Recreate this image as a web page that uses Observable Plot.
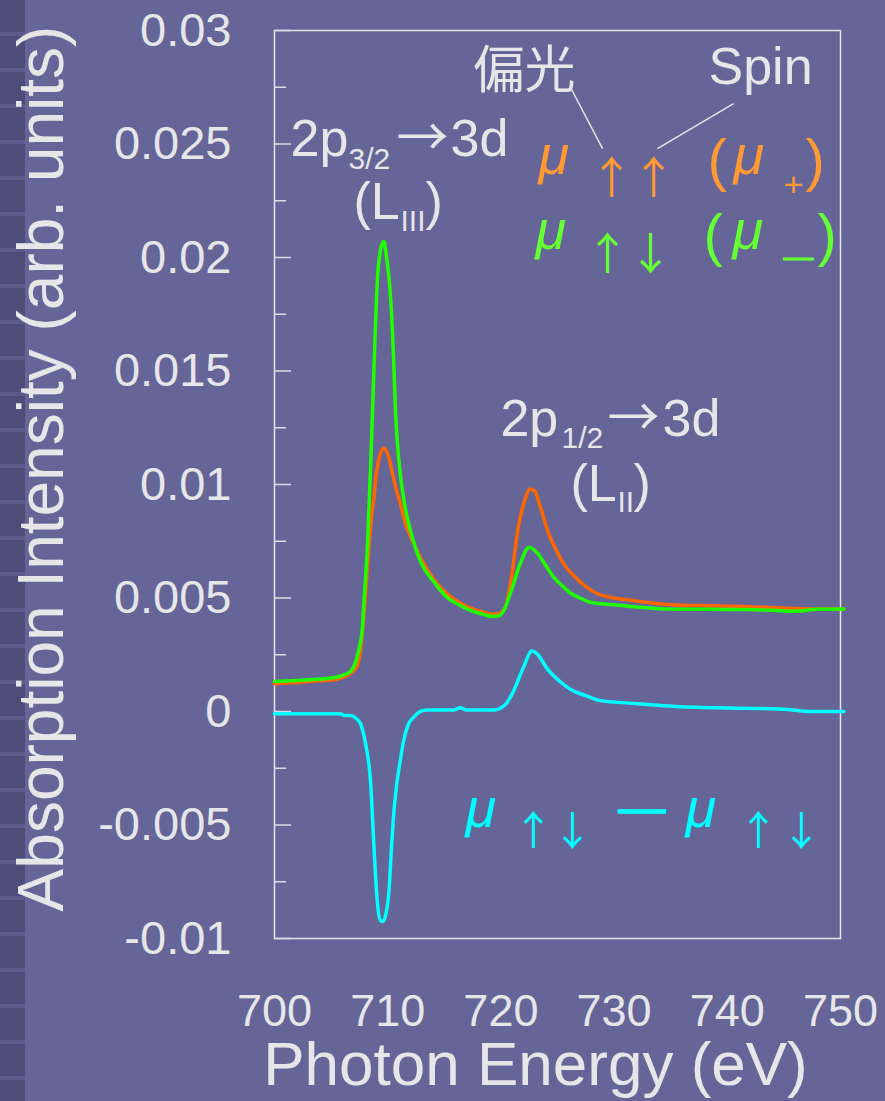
<!DOCTYPE html>
<html>
<head>
<meta charset="utf-8">
<script src="https://cdn.jsdelivr.net/npm/d3@7"></script>
<script src="https://cdn.jsdelivr.net/npm/@observablehq/plot@0.6"></script>
<style>
  html, body { margin: 0; padding: 0; background: #656598; }
  #chart { position: relative; width: 885px; height: 1101px; overflow: hidden; }
  #strip {
    position: absolute; left: 0; top: 0; width: 25px; height: 1101px;
    background: repeating-linear-gradient(to bottom, #4d4d7a 0px, #4d4d7a 32px, #5b5b8b 32px, #5b5b8b 36px);
  }
  #chart svg { position: absolute; left: 0; top: 0; }
</style>
</head>
<body>
<div id="chart"><div id="strip"></div></div>
<script>
// Fe L-edge absorption for the two photon-spin / electron-spin configurations
const energyPlus = [700, 702, 704, 705.5, 706.3, 706.8, 707.3, 707.6, 707.8, 708.0, 708.3, 708.6, 708.8, 709.0, 709.35, 709.66, 710.1, 710.5, 710.8, 711.1, 711.4, 711.7, 712.3, 713.2, 714.1, 715.0, 716.0, 717.3, 718.3, 719.1, 719.7, 720.3, 720.9, 721.5, 722.1, 722.6, 723.0, 723.5, 724.1, 725.0, 725.7, 726.4, 727.5, 728.5, 730.0, 731.5, 733.0, 734.4, 736.5, 738.8, 741.8, 744.7, 747.5, 750.3];
const muPlus = [0.00122, 0.00128, 0.00135, 0.00142, 0.00155, 0.00172, 0.0020, 0.0027, 0.0037, 0.0049, 0.0070, 0.0087, 0.0095, 0.0105, 0.01135, 0.0116, 0.0112, 0.0103, 0.0097, 0.0092, 0.0086, 0.0081, 0.0074, 0.0065, 0.0058, 0.0053, 0.0049, 0.00455, 0.0044, 0.0043, 0.0043, 0.0045, 0.0058, 0.0080, 0.0093, 0.0098, 0.0097, 0.0090, 0.0080, 0.0070, 0.0064, 0.0060, 0.0055, 0.0052, 0.0050, 0.0049, 0.0048, 0.00472, 0.00467, 0.00466, 0.00462, 0.00456, 0.00452, 0.00452];

const energyMinus = [700, 702, 704, 705.5, 706.3, 706.8, 707.3, 707.6, 707.75, 707.9, 708.2, 708.5, 708.8, 709.1, 709.4, 709.66, 709.9, 710.25, 710.5, 710.7, 711.0, 711.4, 712.0, 712.9, 714.1, 715.3, 716.3, 717.3, 718.3, 719.1, 719.7, 720.2, 720.9, 721.7, 722.5, 723.2, 724.0, 724.7, 725.5, 726.2, 727.0, 728.0, 730.0, 732.0, 734.4, 738.0, 741.8, 744.0, 745.9, 748.0, 750.3];
const muMinus = [0.00132, 0.00137, 0.00143, 0.00152, 0.00165, 0.00182, 0.0024, 0.0031, 0.0036, 0.0048, 0.0072, 0.0109, 0.0153, 0.0191, 0.0204, 0.0207, 0.0200, 0.0183, 0.0158, 0.0131, 0.0110, 0.0094, 0.0080, 0.0066, 0.0057, 0.0050, 0.0047, 0.00445, 0.0043, 0.0042, 0.0042, 0.0044, 0.0053, 0.0065, 0.00724, 0.0070, 0.0064, 0.0059, 0.0055, 0.0052, 0.0050, 0.0048, 0.00470, 0.00460, 0.00452, 0.00450, 0.00449, 0.00446, 0.00442, 0.00450, 0.00452];

// Difference spectrum (XMCD)
const energyDiff = [700, 705.8, 706.2, 706.7, 707.2, 707.6, 708.0, 708.5, 708.8, 709.07, 709.35, 709.6, 709.85, 710.1, 710.3, 710.5, 710.8, 711.1, 711.4, 711.8, 712.3, 713.0, 713.5, 715.8, 716.4, 717.0, 719.4, 720.4, 721.0, 722.0, 722.74, 723.2, 724.1, 725.3, 726.2, 727.5, 728.8, 731.0, 733.2, 735.5, 737.6, 740.0, 743.0, 745.5, 747.3, 750.3];
const muDiff = [-0.0001, -0.0001, -0.00018, -0.00018, -0.0003, -0.00054, -0.0013, -0.0032, -0.0061, -0.0083, -0.0092, -0.00925, -0.0089, -0.0080, -0.0063, -0.0047, -0.0032, -0.0022, -0.0013, -0.0006, -0.00025, 0.00003, 0.00007, 0.00007, 0.00016, 0.00007, 0.00007, 0.00031, 0.00078, 0.00195, 0.00266, 0.00254, 0.00188, 0.00129, 0.00096, 0.0007, 0.00048, 0.00038, 0.0003, 0.00022, 0.00018, 0.00015, 0.00013, 0.00008, 0.0, 0.0];

const xTicks = [700, 710, 720, 730, 740, 750];
const yTicks = [-0.01, -0.005, 0, 0.005, 0.01, 0.015, 0.02, 0.025, 0.03];
const yTickLabels = ["-0.01", "-0.005", "0", "0.005", "0.01", "0.015", "0.02", "0.025", "0.03"];
const yMinorTicks = [-0.0075, -0.0025, 0.0025, 0.0075, 0.0125, 0.0175, 0.0225, 0.0275];

const rows = (es, vs) => es.map((E, i) => ({E, v: vs[i]}));

const ink = "#e6e6e8";
const orangeLine = "#ff6600", greenLine = "#1eff00", cyan = "#00ffff";
const orangeText = "#ff9933", greenText = "#66ff33";
const sans = "'Liberation Sans', Arial, sans-serif";
const cjk = "'Noto Sans CJK JP', sans-serif";

// one piece of annotation text, anchored at its left edge
const note = (text, x, y, fontSize, fill, extra = {}) =>
  Plot.text([{text, x, y}], {x: "x", y: "y", text: "text", fontSize, fill,
    textAnchor: "start", lineAnchor: "middle", ...extra});
const mu = (x, y, fill) => note("μ", x, y, 56, fill, {fontStyle: "italic"});
// full-width arrows, centred on x
const arrow = (ch, x, y, fill, fontSize = 44) =>
  note(ch, x, y, fontSize, fill, {textAnchor: "middle", fontFamily: cjk});

const chart = Plot.plot({
  width: 885,
  height: 1101,
  marginLeft: 274,
  marginRight: 45,
  marginTop: 30,
  marginBottom: 163,
  style: {background: "transparent", color: ink, fontFamily: sans, overflow: "visible"},
  x: {domain: [700, 750], label: null},
  y: {domain: [-0.01, 0.03], label: null},
  marks: [
    Plot.frame({stroke: ink, strokeWidth: 1.5}),
    // inward ticks on the left edge
    Plot.axisY(yTicks, {tickSize: 17, dx: 17, fill: "none", stroke: "#dcdce6", strokeWidth: 1.5, label: null}),
    Plot.axisY(yMinorTicks, {tickSize: 12, dx: 12, fill: "none", stroke: "#dcdce6", strokeWidth: 1.5, label: null}),
    Plot.axisY(yTicks, {tickSize: 0, tickPadding: 43, fontSize: 47, fill: ink,
      tickFormat: d => yTickLabels[yTicks.indexOf(d)], label: null}),
    Plot.axisX(xTicks, {tickSize: 0, tickPadding: 56, fontSize: 45, fill: ink, label: null}),
    Plot.text(["Photon Energy (eV)"], {frameAnchor: "bottom", textAnchor: "middle", lineAnchor: "middle",
      dx: -22, dy: 127, fontSize: 62, fill: ink}),
    Plot.text(["Absorption Intensity (arb. units)"], {frameAnchor: "left", textAnchor: "middle", lineAnchor: "middle",
      rotate: -90, dx: -232, dy: -16, fontSize: 64, fill: ink}),

    // spectra
    Plot.line(rows(energyPlus, muPlus), {x: "E", y: "v", stroke: orangeLine, strokeWidth: 3.5, curve: "monotone-x"}),
    Plot.line(rows(energyMinus, muMinus), {x: "E", y: "v", stroke: greenLine, strokeWidth: 3.5, curve: "monotone-x"}),
    Plot.line(rows(energyDiff, muDiff), {x: "E", y: "v", stroke: cyan, strokeWidth: 3.5, curve: "monotone-x"}),

    // L3 edge label
    note("2p", 701.41, 0.02521, 52, ink),
    note("3/2", 706.54, 0.02434, 30, ink),
    arrow("→", 713.07, 0.02521, ink, 52),
    note("3d", 715.55, 0.02521, 52, ink),
    note("(L", 706.98, 0.02244, 52, ink),
    note("III", 711.13, 0.02157, 30, ink),
    note(")", 713.34, 0.02244, 52, ink),

    // L2 edge label
    note("2p", 719.96, 0.01288, 52, ink),
    note("1/2", 725.35, 0.01201, 30, ink),
    arrow("→", 731.71, 0.01288, ink, 52),
    note("3d", 734.28, 0.01288, 52, ink),
    note("(L", 726.15, 0.01001, 52, ink),
    note("II", 730.30, 0.00919, 30, ink),
    note(")", 731.71, 0.01001, 52, ink),

    // polarization / spin key
    note("偏光", 717.58, 0.02817, 51, ink, {fontFamily: cjk}),
    note("Spin", 738.34, 0.02838, 52, ink),
    Plot.link([{x1: 726.15, y1: 0.02749, x2: 728.98, y2: 0.02480},
               {x1: 740.55, y1: 0.02678, x2: 733.83, y2: 0.02480}],
      {x1: "x1", y1: "y1", x2: "x2", y2: "y2", stroke: ink, strokeWidth: 1.5}),

    mu(723.32, 0.02445, orangeText),
    arrow("↑", 729.77, 0.02344, orangeText),
    arrow("↑", 733.48, 0.02344, orangeText),
    note("(", 738.25, 0.02421, 58, orangeText),
    mu(740.55, 0.02445, orangeText),
    note("+", 744.96, 0.02317, 34, orangeText),
    note(")", 746.91, 0.02421, 58, orangeText),

    mu(723.06, 0.02115, greenText),
    arrow("↑", 729.42, 0.02009, greenText),
    arrow("↓", 733.22, 0.02009, greenText),
    note("(", 737.90, 0.02093, 58, greenText),
    mu(740.46, 0.02115, greenText),
    note("—", 744.96, 0.02000, 30, greenText, {stroke: greenText, strokeWidth: 1}),
    note(")", 747.97, 0.02093, 58, greenText),

    // difference label
    mu(716.87, -0.00432, cyan),
    arrow("↑", 722.88, -0.00533, cyan, 40),
    arrow("↓", 726.33, -0.00533, cyan, 40),
    note("—", 732.47, -0.00427, 47, cyan, {textAnchor: "middle", stroke: cyan, strokeWidth: 1.5}),
    mu(736.31, -0.00432, cyan),
    arrow("↑", 742.76, -0.00533, cyan, 40),
    arrow("↓", 746.55, -0.00533, cyan, 40)
  ]
});

document.getElementById("chart").appendChild(chart);
</script>
</body>
</html>
